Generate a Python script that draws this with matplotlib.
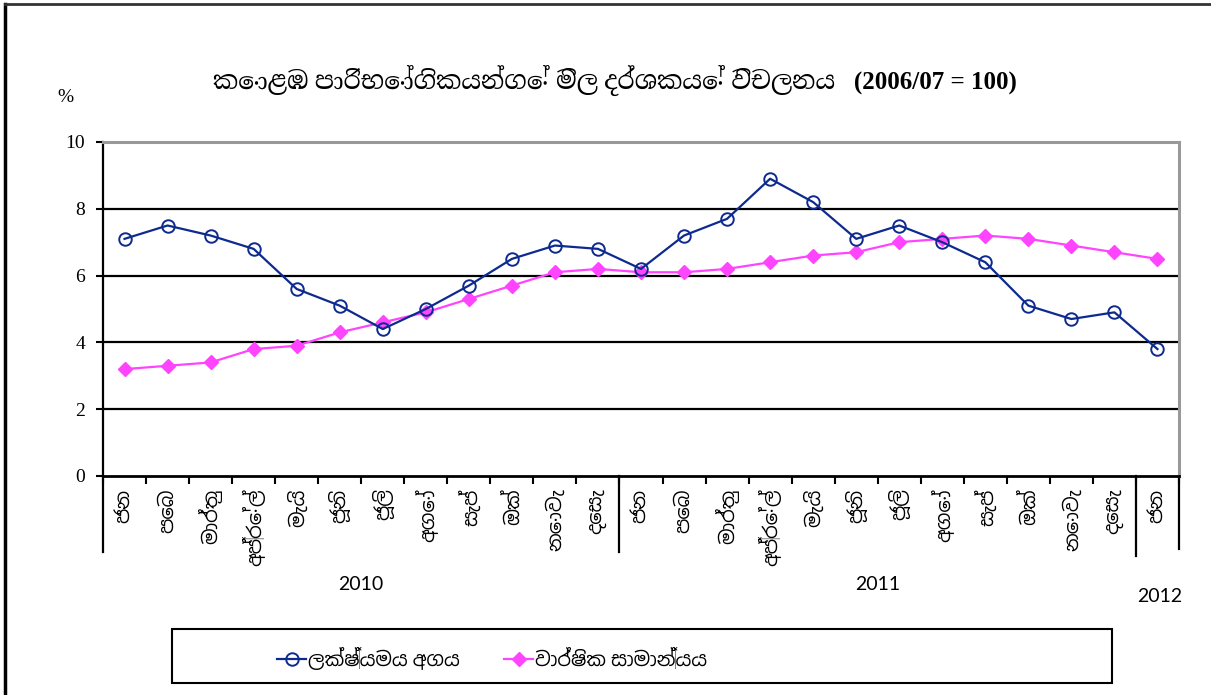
import matplotlib
matplotlib.use('Agg')
import matplotlib.pyplot as plt
import matplotlib.transforms as mtransforms
from matplotlib import font_manager
from matplotlib.ft2font import FT2Font
from matplotlib.patches import Rectangle
from matplotlib.lines import Line2D
import numpy as np

# data
months = ['ජන', 'පෙබ', 'මාර්තු', 'අප්‍රේල්', 'මැයි', 'ජූනි', 'ජූලි', 'අගෝ',
          'සැප්', 'ඔක්', 'නොවැ', 'දෙසැ']
month_labels = months + months + ['ජන']
years = ['2010', '2011', '2012']
point_to_point = [7.1, 7.5, 7.2, 6.8, 5.6, 5.1, 4.4, 5.0, 5.7, 6.5, 6.9, 6.8,
                  6.2, 7.2, 7.7, 8.9, 8.2, 7.1, 7.5, 7.0, 6.4, 5.1, 4.7, 4.9, 3.8]
annual_avg = [3.2, 3.3, 3.4, 3.8, 3.9, 4.3, 4.6, 4.9, 5.3, 5.7, 6.1, 6.2,
              6.1, 6.1, 6.2, 6.4, 6.6, 6.7, 7.0, 7.1, 7.2, 7.1, 6.9, 6.7, 6.5]
series_names = ['ලක්ෂ්‍යමය අගය', 'වාර්ෂික සාමාන්‍යය']
title = 'කොළඹ පාරිභෝගිකයන්ගේ මිල දර්ශකයේ විචලනය   (2006/07 = 100)'

# fonts with Sinhala glyphs
sinhala = set()
for f in font_manager.fontManager.ttflist:
    try:
        if 0x0D9A in FT2Font(f.fname).get_charmap():
            sinhala.add(f.name)
    except Exception:
        pass
sin_sans = [n for n in ['Noto Sans Sinhala'] if n in sinhala] or sorted(sinhala)[:1]
sin_serif = [n for n in ['Noto Serif Sinhala'] if n in sinhala] or sin_sans
sans = ['Lato'] + sin_sans + ['DejaVu Sans']
serif = ['Liberation Serif'] + sin_serif + ['DejaVu Sans']

W, H = 1211, 695
fig = plt.figure(figsize=(W / 100, H / 100), dpi=100)
ax = fig.add_axes([103 / W, 1 - 476 / H, 1076 / W, 334 / H])

x = np.arange(len(month_labels))
blue = '#0d2a8f'
pink = '#ff44ff'
l1, = ax.plot(x, point_to_point, color=blue, lw=1.6, marker='o', ms=9,
              mfc='none', mec=blue, mew=1.4, zorder=3)
l2, = ax.plot(x, annual_avg, color=pink, lw=1.6, marker='D', ms=7.5,
              mfc=pink, mec=pink, zorder=2)

ax.set_xlim(-0.5, len(x) - 0.5)
ax.set_ylim(0, 10)
ax.set_yticks([0, 2, 4, 6, 8, 10])
ax.set_yticklabels(['0', '2', '4', '6', '8', '10'], family=serif, fontsize=14)
for yv in [2, 4, 6, 8]:
    ax.axhline(yv, color='black', lw=1.6, zorder=1)
ax.tick_params(axis='y', direction='out', length=5, width=1.5, pad=8)

ax.set_xticks(x)
ax.set_xticklabels(month_labels, rotation=90, family=sans, fontsize=14, va='top')
ax.set_xticks(np.arange(-0.5, len(x), 1), minor=True)
ax.tick_params(axis='x', which='major', length=0, pad=9)
ax.tick_params(axis='x', which='minor', direction='out', length=6, width=1.5)

for side in ['top', 'right']:
    ax.spines[side].set_color('#999999')
    ax.spines[side].set_linewidth(2.2)
ax.spines['left'].set_linewidth(1.6)
ax.spines['bottom'].set_linewidth(2)

# year group separators and labels
trans = mtransforms.blended_transform_factory(ax.transData, ax.transAxes)
for xs, yb in [(-0.5, -0.228), (11.5, -0.228), (23.5, -0.24), (24.5, -0.22)]:
    ax.plot([xs, xs], [0, yb], color='black', lw=1.6, transform=trans, clip_on=False)
for xc, yc, yr in [(5.5, -0.326, years[0]), (17.5, -0.326, years[1]), (24.05, -0.362, years[2])]:
    ax.text(xc, yc, yr, transform=trans, ha='center', va='center',
            family=sans, fontsize=14)

fig.text(65 / W, 1 - 98 / H, '%', ha='center', va='center', family=serif, fontsize=14)
fig.text(615 / W, 1 - 80 / H, title, ha='center', va='center', family=serif,
         fontsize=18, fontweight='bold')

# legend: frame plus two entries
fig.patches.append(Rectangle((172 / W, 1 - 683 / H), 940 / W, 54 / H,
                             transform=fig.transFigure, fill=False,
                             ec='black', lw=1.5))
for handle, name, x0 in [(l1, series_names[0], 277), (l2, series_names[1], 504)]:
    leg = fig.legend([handle], [name], loc='center left',
                     bbox_to_anchor=(x0 / W, 1 - 658 / H), frameon=False,
                     prop={'family': sans, 'size': 14}, handlelength=1.5,
                     handletextpad=0.1, borderpad=0, borderaxespad=0)

# outer frame
fig.add_artist(Line2D([5 / W, 5 / W], [0, 1 - 4 / H], color='black', lw=2.5,
                      transform=fig.transFigure))
fig.add_artist(Line2D([5 / W, 1], [1 - 4 / H, 1 - 4 / H], color='#333333', lw=2,
                      transform=fig.transFigure))

fig.savefig('out.png', dpi=100)
